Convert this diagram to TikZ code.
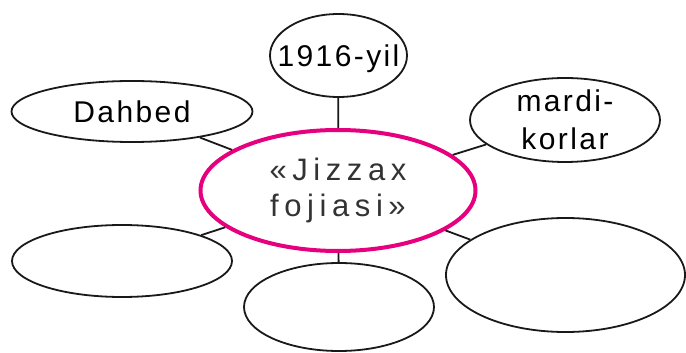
\documentclass[tikz,border=0pt]{standalone}
\usepackage{fontspec}
\setmainfont{Liberation Sans}
\newfontfamily\lblfont[LetterSpace=8]{Liberation Sans}
\newfontfamily\topicfont[LetterSpace=18]{Liberation Sans}
\usetikzlibrary{shapes.geometric}
\definecolor{topicpink}{RGB}{230,0,126}
\begin{document}
\begin{tikzpicture}[x=0.5pt,y=-0.5pt,
  bubble/.style={draw=black!90,line width=0.9pt,ellipse,inner sep=0pt},
  lbl/.style={inner sep=0pt,align=center,font=\lblfont\fontsize{15}{19}\selectfont},
  link/.style={draw=black!90,line width=0.9pt}]
\useasboundingbox (0,0) rectangle (686,353);
\node[bubble,draw=topicpink,line width=2pt,minimum width=137.5pt,minimum height=60.5pt,
  label={[lbl,text=black!80,font=\topicfont\fontsize{15.5}{18}\selectfont]center:«Jizzax\\fojiasi»}]
  (topic) at (338,190.5) {};
\node[bubble,minimum width=68.5pt,minimum height=41.5pt,
  label={[lbl,yshift=-1.5pt]center:1916-yil}] (year) at (338.5,55.5) {};
\node[bubble,minimum width=120.5pt,minimum height=30.5pt,
  label={[lbl]center:Dahbed}] (place) at (132,111.5) {};
\node[bubble,minimum width=95pt,minimum height=42pt,
  label={[lbl]center:mardi-\\korlar}] (people) at (565,120) {};
\node[bubble,minimum width=110pt,minimum height=36pt] (blankw) at (122,261) {};
\node[bubble,minimum width=95pt,minimum height=44pt] (blanks) at (339,307) {};
\node[bubble,minimum width=119.5pt,minimum height=57pt] (blanke) at (565.5,275) {};
% links to the topic
\foreach \n in {year,place,people,blankw,blanks,blanke}
  \draw[link] (topic) -- (\n);
\end{tikzpicture}
\end{document}
